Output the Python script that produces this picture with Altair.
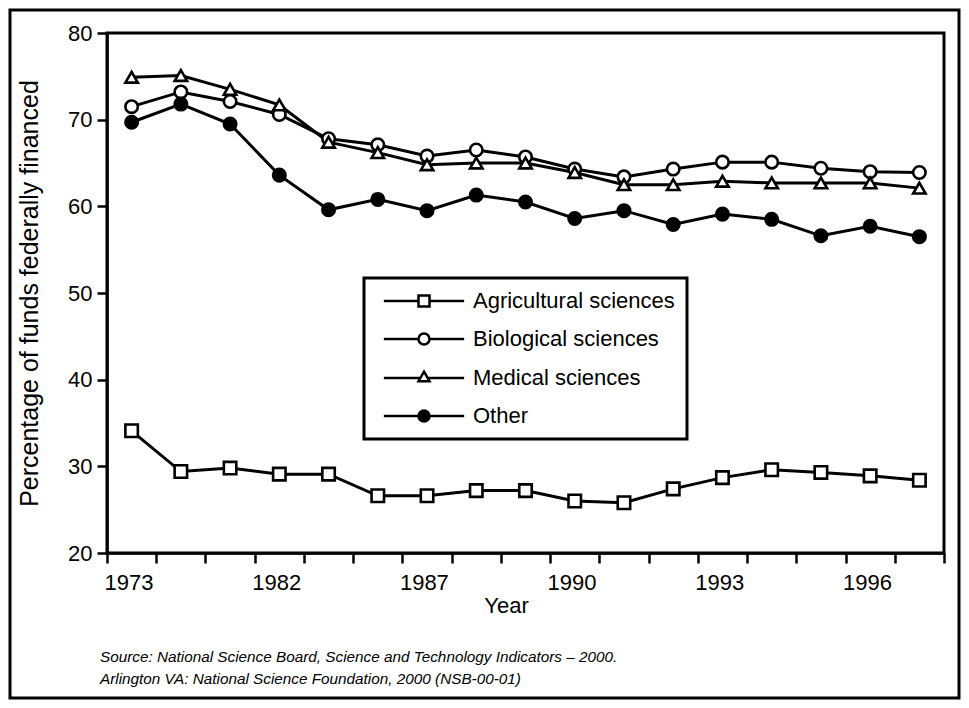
import altair as alt
import pandas as pd

# ---- data ----
series_names = ["Agricultural sciences", "Biological  sciences", "Medical  sciences", "Other"]
series_fill = ["white", "white", "white", "black"]
series_shape = ["square", "circle", "triangle-up", "circle"]
period_index = list(range(17))
tick_labels = ["1973", "", "", "1982", "", "", "1987", "", "", "1990", "", "", "1993", "", "", "1996", ""]

agricultural = [34.1, 29.4, 29.8, 29.1, 29.1, 26.6, 26.6, 27.2, 27.2, 26.0, 25.8, 27.4, 28.7, 29.6, 29.3, 28.9, 28.4]
biological = [71.5, 73.2, 72.1, 70.6, 67.8, 67.1, 65.8, 66.5, 65.7, 64.3, 63.4, 64.3, 65.1, 65.1, 64.4, 64.0, 63.9]
medical = [74.9, 75.1, 73.5, 71.7, 67.4, 66.2, 64.8, 65.0, 65.0, 63.9, 62.5, 62.5, 62.9, 62.7, 62.7, 62.7, 62.1]
other = [69.7, 71.8, 69.5, 63.6, 59.6, 60.8, 59.5, 61.3, 60.5, 58.6, 59.5, 57.9, 59.1, 58.5, 56.6, 57.7, 56.5]

y_ticks = [20, 30, 40, 50, 60, 70, 80]
source_lines = [
    "Source: National Science Board, Science and Technology Indicators \u2013 2000.",
    "Arlington VA: National Science Foundation, 2000 (NSB-00-01)",
]

rows = []
for name, vals in zip(series_names, [agricultural, biological, medical, other]):
    for i, v in zip(period_index, vals):
        rows.append({"series": name, "period": i, "value": v})
df = pd.DataFrame(rows)

FONT = "Liberation Sans"
label_expr = "[" + ",".join("'%s'" % t for t in tick_labels) + "][datum.value] || ''"

x_enc = alt.X(
    "pos:Q",
    scale=alt.Scale(domain=[0, len(period_index)], nice=False, zero=False),
    axis=alt.Axis(
        values=list(range(len(period_index) + 1)),
        labelExpr=label_expr,
        labelAlign="left",
        labelOffset=-3,
        labelFlush=False,
        labelOverlap=False,
        labelPadding=9,
        labelFontSize=22,
        tickSize=10,
        tickWidth=2.5,
        domainWidth=2.5,
        grid=False,
        title="Year",
        titleFontSize=22,
        titleX=399,
        titleY=42,
    ),
)
y_enc = alt.Y(
    "value:Q",
    scale=alt.Scale(domain=[20, 80], nice=False, zero=False),
    axis=alt.Axis(
        values=y_ticks,
        labelFontSize=22,
        labelPadding=5,
        tickSize=10,
        tickWidth=2.5,
        domainWidth=2.5,
        grid=False,
        title="Percentage of funds federally financed",
        titleFontSize=25,
        titleX=-78,
        titleBaseline="middle",
    ),
)

base = alt.Chart(df).transform_calculate(pos="datum.period + 0.5")

lines = base.mark_line(color="black", strokeWidth=3).encode(x=x_enc, y=y_enc, detail="series:N")

points = base.mark_point(filled=True, size=155, stroke="black", strokeWidth=2.6, opacity=1).encode(
    x=x_enc,
    y=y_enc,
    shape=alt.Shape("series:N", scale=alt.Scale(domain=series_names, range=series_shape), legend=None),
    fill=alt.Fill("series:N", scale=alt.Scale(domain=series_names, range=series_fill), legend=None),
)

# legend glyphs: a line segment through the marker (the last one drawn as a solid disc)
sq = "M-7.3,0H-1M1,0H7.3M-1,-1H1V1H-1Z"
circ = "M-7.3,0H-1M1,0H7.3M-1,0A1,1,0,1,0,1,0A1,1,0,1,0,-1,0Z"
tri = "M-7.3,0H-0.667M0.667,0H7.3M0,-1.155L1,0.577L-1,0.577Z"
disc = (
    "M-7.3,0H-1M1,0H7.3"
    "M-1,0A1,1,0,1,0,1,0A1,1,0,1,0,-1,0Z"
    "M-0.6,0A0.6,0.6,0,1,0,0.6,0A0.6,0.6,0,1,0,-0.6,0Z"
    "M-0.2,0A0.2,0.2,0,1,0,0.2,0A0.2,0.2,0,1,0,-0.2,0Z"
)

legend_def = alt.Legend(
    title=None,
    orient="none",
    legendX=257,
    legendY=245,
    padding=12,
    strokeColor="black",
    fillColor="white",
    symbolSize=121,
    symbolStrokeColor="black",
    symbolStrokeWidth=2.5,
    symbolOffset=37,
    labelOffset=38,
    labelFontSize=22,
    labelFont=FONT,
    labelColor="black",
    rowPadding=16,
    labelLimit=400,
)

legend_layer = base.transform_filter("false").mark_point(
    filled=False, color="black", strokeWidth=2.5, opacity=1
).encode(
    x=x_enc,
    y=y_enc,
    shape=alt.Shape("series:N", scale=alt.Scale(domain=series_names, range=[sq, circ, tri, disc]), legend=legend_def),
)

frame = alt.Chart(alt.Data(values=[{"f": 1}])).mark_rect(
    fillOpacity=0, stroke="black", strokeWidth=3
).encode(x=alt.value(-97), x2=alt.value(852), y=alt.value(-23), y2=alt.value(665))

source = alt.Chart(alt.Data(values=[{"f": 1}])).mark_text(
    text=source_lines,
    align="left",
    baseline="alphabetic",
    font=FONT,
    fontSize=15.3,
    fontStyle="italic",
    lineHeight=22,
    color="black",
).encode(x=alt.value(-7), y=alt.value(629))

chart = (
    alt.layer(frame, lines, points, legend_layer, source)
    .resolve_scale(shape="independent", fill="independent")
    .properties(
        width=837,
        height=520,
        autosize=alt.AutoSizeParams(type="none"),
        padding={"left": 99, "top": 25, "right": 17, "bottom": 147},
    )
    .configure(font=FONT)
    .configure_view(stroke="black", strokeWidth=3)
    .configure_legend(strokeWidth=3)
    .configure_axis(
        labelColor="black",
        titleColor="black",
        domainColor="black",
        tickColor="black",
        labelFont=FONT,
        titleFont=FONT,
        titleFontWeight="normal",
    )
)

chart.save("out.html", embed_options={"renderer": "svg", "actions": False})
